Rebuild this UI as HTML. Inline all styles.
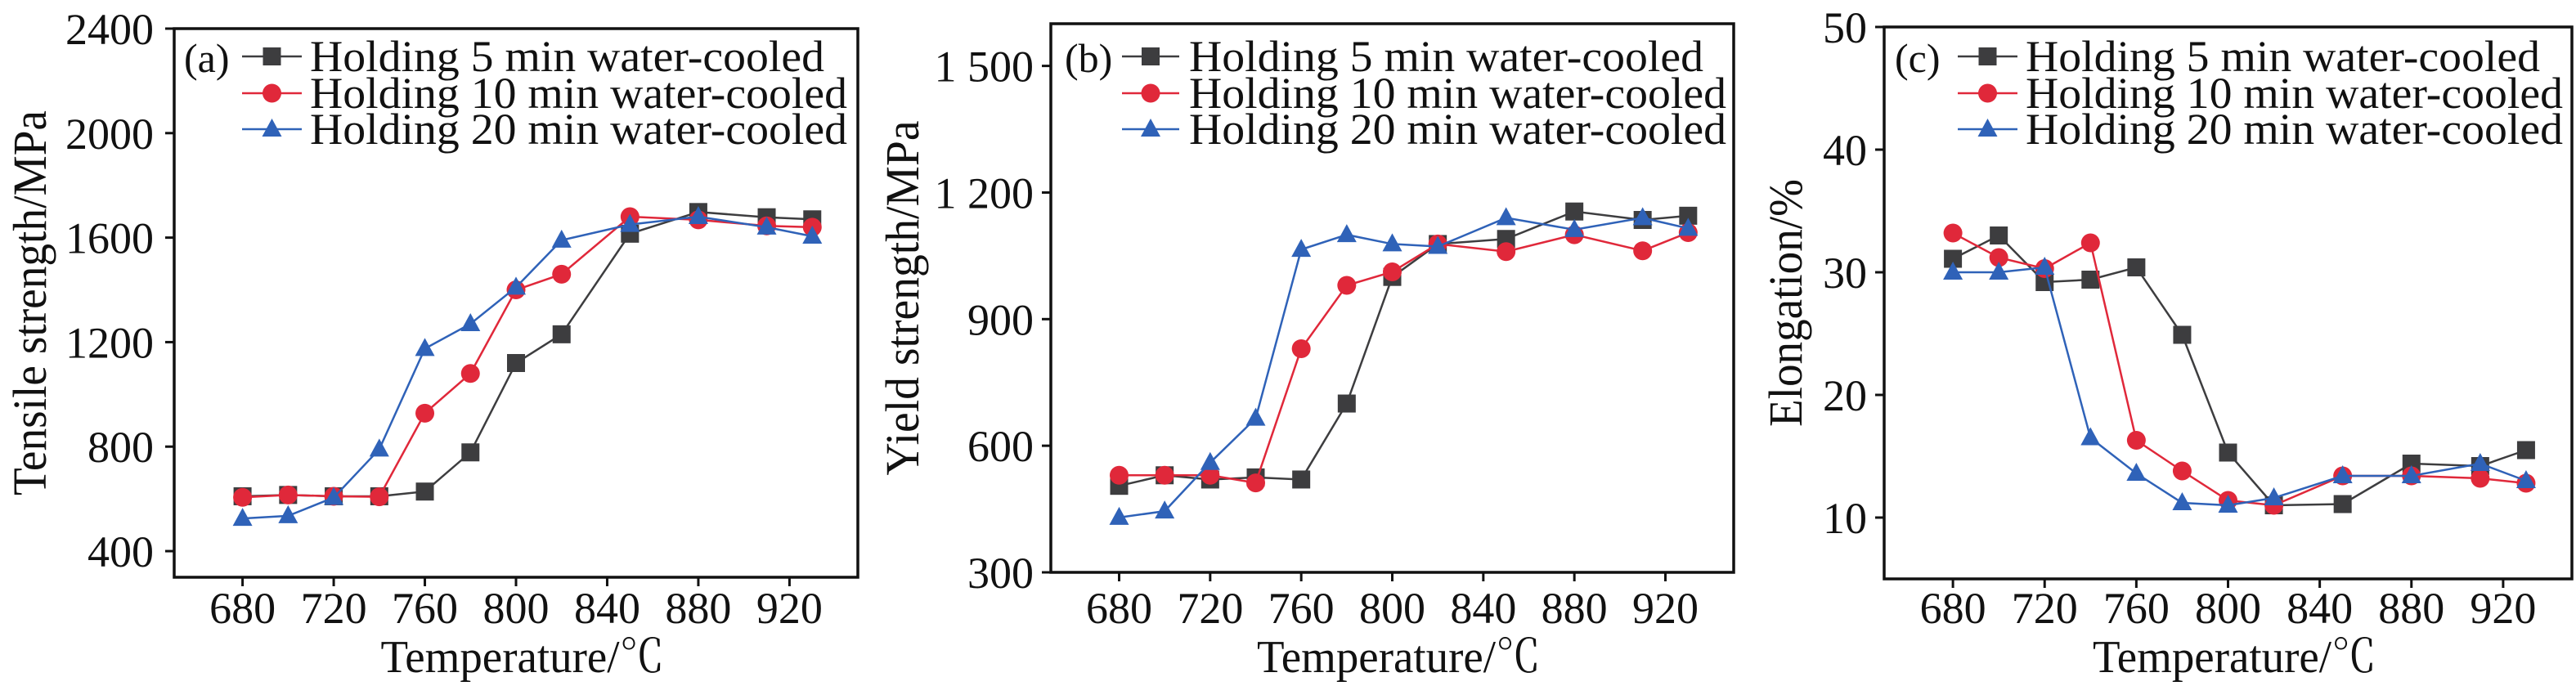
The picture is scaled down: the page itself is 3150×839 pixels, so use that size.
<!DOCTYPE html>
<html><head><meta charset="utf-8"><style>
html,body{margin:0;padding:0;background:#fff;}
svg{display:block;}
text{font-family:"Liberation Serif","Noto Serif CJK SC",serif;fill:#111;}
</style></head><body>
<svg id="s" width="3150" height="839" viewBox="0 0 3150 839" xmlns="http://www.w3.org/2000/svg"></svg>
<script>
const NS="http://www.w3.org/2000/svg";
const svg=document.getElementById('s');
function el(t,a,txt){const e=document.createElementNS(NS,t);for(const k in a)e.setAttribute(k,a[k]);if(txt!==undefined)e.textContent=txt;svg.appendChild(e);return e;}
const X=[680,700,720,740,760,780,800,820,850,880,910,930];
const cols=['#3d3d3f','#e0283a','#2f62b8'];
const panels=[
 {L:213,R:1049,T:35,B:706,ymin:300,ymax:2400,ticks:[400,800,1200,1600,2000,2400],lab:v=>String(v),labR:188,
  title:'Tensile strength/MPa',tx:37,tlen:471,tag:'(a)',tagx:225,lx1:296,lx2:369,txs:379,
  d:[[610,615,610,610,628,778,1120,1230,1615,1698,1678,1670],
     [606,615,610,608,928,1080,1400,1460,1680,1668,1645,1640],
     [525,535,605,790,1175,1270,1410,1590,1650,1680,1640,1605]]},
 {L:1285,R:2120,T:29,B:700,ymin:300,ymax:1600,ticks:[300,600,900,1200,1500],lab:v=>v>=1000?String(v).replace(/^(\d)/,'$1 '):String(v),labR:1264,
  title:'Yield strength/MPa',tx:1104,tlen:434,tag:'(b)',tagx:1302,lx1:1372,lx2:1442,txs:1454,
  d:[[505,530,520,525,520,700,1000,1078,1090,1155,1135,1145],
     [530,530,530,512,830,980,1012,1078,1060,1100,1062,1105],
     [430,445,560,665,1065,1100,1078,1072,1140,1112,1140,1115]]},
 {L:2304,R:3145,T:33,B:708,ymin:5,ymax:50,ticks:[10,20,30,40,50],lab:v=>String(v),labR:2283,
  title:'Elongation/%',tx:2184,tlen:303,tag:'(c)',tagx:2317,lx1:2394,lx2:2467,txs:2477,
  d:[[31.1,33,29.2,29.4,30.4,24.9,15.3,11,11.1,14.4,14.2,15.5],
     [33.2,31.2,30.3,32.4,16.3,13.8,11.4,11,13.4,13.4,13.2,12.8],
     [30,30,30.4,16.5,13.6,11.2,11,11.6,13.4,13.4,14.4,13]]}
];
const legTxt=['Holding 5 min water-cooled','Holding 10 min water-cooled','Holding 20 min water-cooled'];
const legLen=[629,657,657];
const legY=[69,114,158];
function marker(i,x,y,c){
 if(i===0) el('rect',{x:x-11,y:y-11,width:22,height:22,fill:c});
 else if(i===1) el('circle',{cx:x,cy:y,r:11.5,fill:c});
 else el('polygon',{points:`${x},${y-13} ${x+12},${y+9} ${x-12},${y+9}`,fill:c});
}
panels.forEach(p=>{
 const fx=v=>p.L+(v-650)/300*(p.R-p.L);
 const fy=v=>p.B-(v-p.ymin)/(p.ymax-p.ymin)*(p.B-p.T);
 [680,720,760,800,840,880,920].forEach(v=>{
  const x=fx(v);el('line',{x1:x,y1:p.B,x2:x,y2:p.B+11,stroke:'#111','stroke-width':3});
  el('text',{x:x,y:762,'font-size':54,'text-anchor':'middle'},String(v));
 });
 p.ticks.forEach(v=>{
  const y=fy(v);el('line',{x1:p.L-11,y1:y,x2:p.L,y2:y,stroke:'#111','stroke-width':3});
  el('text',{x:p.labR,y:y+19,'font-size':54,'text-anchor':'end'},p.lab(v));
 });
 p.d.forEach((arr,i)=>{
  el('polyline',{points:arr.map((v,k)=>fx(X[k])+','+fy(v)).join(' '),fill:'none',stroke:cols[i],'stroke-width':2.5});
  arr.forEach((v,k)=>marker(i,fx(X[k]),fy(v),cols[i]));
 });
 el('rect',{x:p.L,y:p.T,width:p.R-p.L,height:p.B-p.T,fill:'none',stroke:'#111','stroke-width':3.5});
 el('text',{x:p.tagx,y:88,'font-size':50},p.tag);
 legY.forEach((y,i)=>{
  el('line',{x1:p.lx1,y1:y,x2:p.lx2,y2:y,stroke:cols[i],'stroke-width':2.5});
  marker(i,(p.lx1+p.lx2)/2,y,cols[i]);
  el('text',{x:p.txs,y:y+18,'font-size':54,textLength:legLen[i],lengthAdjust:'spacingAndGlyphs'},legTxt[i]);
 });
 const cy=(p.T+p.B)/2;
 el('text',{x:0,y:0,'font-size':58,'text-anchor':'middle',transform:`translate(${p.tx+19},${cy}) rotate(-90)`,textLength:p.tlen,lengthAdjust:'spacingAndGlyphs'},p.title);
 el('text',{x:(p.L+p.R)/2+8,y:822,'font-size':56,'text-anchor':'middle',textLength:347,lengthAdjust:'spacingAndGlyphs'},'Temperature/℃');
});
</script>
</body></html>
